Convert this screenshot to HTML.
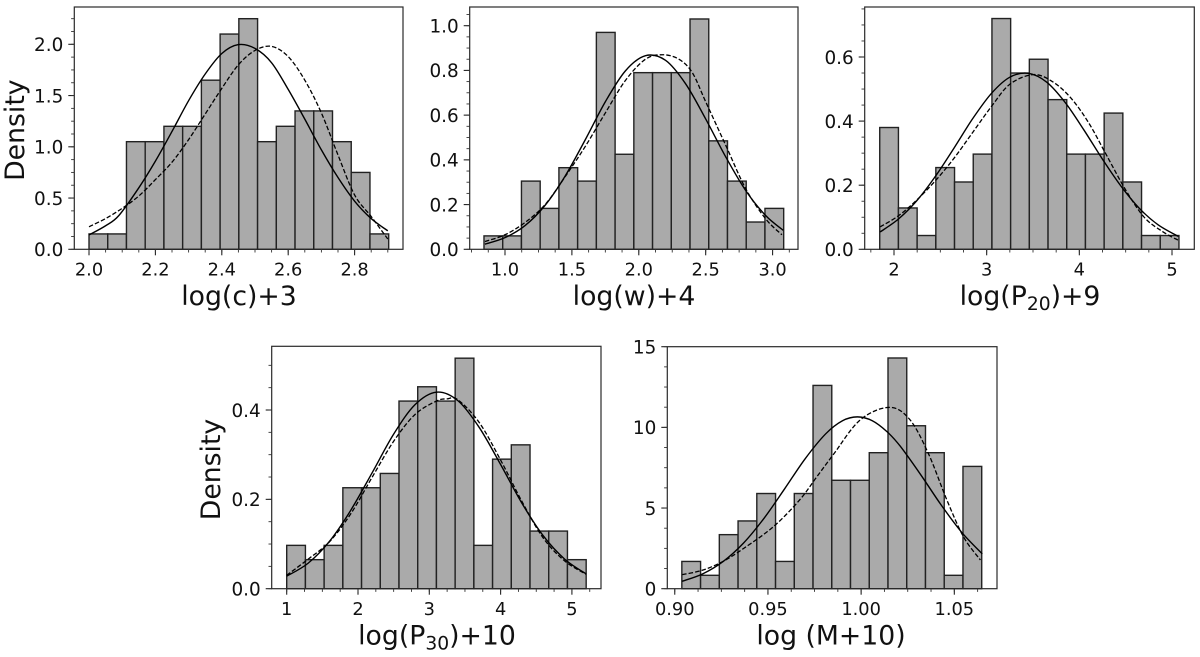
<!DOCTYPE html>
<html lang="en">
<head>
<meta charset="utf-8">
<title>Density histograms</title>
<style>
html,body{margin:0;padding:0;background:#fff;}
svg{display:block;}
text{font-family:"DejaVu Sans","Liberation Sans",sans-serif;fill:#111;}
</style>
</head>
<body>
<svg id="chart" xmlns="http://www.w3.org/2000/svg" width="1200" height="657" viewBox="0 0 1200 657">
<rect x="0" y="0" width="1200" height="657" fill="#ffffff"/>
</svg>
<script>
// Panel 1: log(c)+3
const p1Density = [0.15,0.15,1.05,1.05,1.2,1.2,1.65,2.1,2.25,1.05,1.2,1.35,1.35,1.05,0.75,0.15];
const p1SolidX = [2.0,2.05,2.09,2.15,2.2,2.25,2.3,2.35,2.4,2.45,2.5,2.55,2.6,2.65,2.7,2.75,2.8,2.85,2.9];
const p1SolidY = [0.14,0.23,0.33,0.6,0.86,1.15,1.45,1.71,1.91,1.997,1.96,1.82,1.56,1.27,0.97,0.7,0.47,0.3,0.18];
const p1DashX = [2.0,2.05,2.1,2.15,2.2,2.25,2.3,2.35,2.4,2.45,2.5,2.55,2.6,2.65,2.7,2.75,2.8,2.85,2.9];
const p1DashY = [0.22,0.3,0.4,0.52,0.68,0.85,1.07,1.32,1.57,1.8,1.94,1.98,1.88,1.65,1.33,0.92,0.53,0.32,0.1];
const p1XTicks = ['2.0','2.2','2.4','2.6','2.8'];
const p1YTicks = ['0.0','0.5','1.0','1.5','2.0'];

// Panel 2: log(w)+4
const p2Density = [0.06,0.06,0.305,0.183,0.365,0.305,0.97,0.425,0.79,0.79,0.79,1.03,0.485,0.305,0.122,0.183];
const p2SolidX = [0.85,1.0,1.15,1.3,1.45,1.6,1.75,1.9,2.05,2.2,2.35,2.5,2.65,2.8,2.95,3.08];
const p2SolidY = [0.023,0.052,0.106,0.197,0.328,0.49,0.66,0.798,0.866,0.845,0.74,0.583,0.413,0.262,0.15,0.085];
const p2DashX = [0.85,1.0,1.15,1.3,1.45,1.6,1.75,1.9,2.05,2.18,2.3,2.4,2.5,2.65,2.8,2.95,3.07];
const p2DashY = [0.035,0.065,0.12,0.2,0.325,0.46,0.61,0.755,0.85,0.87,0.85,0.79,0.66,0.465,0.27,0.135,0.065];
const p2XTicks = ['1.0','1.5','2.0','2.5','3.0'];
const p2YTicks = ['0.0','0.2','0.4','0.6','0.8','1.0'];

// Panel 3: log(P20)+9
const p3Density = [0.38,0.129,0.043,0.255,0.21,0.297,0.72,0.55,0.593,0.467,0.297,0.297,0.425,0.21,0.043,0.043];
const p3SolidX = [1.85,2.05,2.25,2.45,2.65,2.85,3.05,3.25,3.45,3.65,3.85,4.05,4.25,4.45,4.65,4.85,5.07];
const p3SolidY = [0.054,0.095,0.153,0.229,0.317,0.408,0.486,0.537,0.549,0.521,0.457,0.372,0.281,0.197,0.127,0.0765,0.04];
const p3DashX = [1.85,2.05,2.25,2.45,2.65,2.85,3.05,3.25,3.5,3.7,3.9,4.1,4.3,4.5,4.7,4.9,5.07];
const p3DashY = [0.07,0.105,0.155,0.215,0.285,0.365,0.445,0.515,0.545,0.525,0.475,0.395,0.29,0.185,0.1,0.055,0.028];
const p3XTicks = ['2','3','4','5'];
const p3YTicks = ['0.0','0.2','0.4','0.6'];

// Panel 4: log(P30)+10
const p4Density = [0.097,0.065,0.097,0.226,0.226,0.258,0.42,0.452,0.42,0.516,0.097,0.29,0.322,0.129,0.129,0.065];
const p4SolidX = [1.0,1.3,1.6,1.9,2.2,2.5,2.8,3.1,3.4,3.7,4.0,4.3,4.6,4.9,5.2];
const p4SolidY = [0.028,0.057,0.106,0.176,0.26,0.346,0.412,0.44,0.421,0.361,0.278,0.191,0.118,0.066,0.033];
const p4DashX = [1.0,1.3,1.6,1.9,2.2,2.5,2.8,3.1,3.25,3.4,3.7,4.0,4.3,4.6,4.9,5.2];
const p4DashY = [0.03,0.066,0.105,0.168,0.25,0.33,0.39,0.42,0.425,0.423,0.372,0.288,0.195,0.113,0.062,0.032];
const p4XTicks = ['1','2','3','4','5'];
const p4YTicks = ['0.0','0.2','0.4'];

// Panel 5: log (M+10)
const p5Density = [1.69,0.83,3.35,4.2,5.9,1.69,5.9,12.6,6.72,6.72,8.43,14.3,10.1,8.43,0.83,7.58];
const p5SolidX = [0.904,0.915,0.926,0.937,0.948,0.959,0.97,0.981,0.99,0.998,1.006,1.014,1.021,1.032,1.043,1.054,1.065];
const p5SolidY = [0.46,0.92,1.69,2.84,4.38,6.2,8.06,9.6,10.41,10.65,10.41,9.72,8.83,7.06,5.18,3.49,2.16];
const p5DashX = [0.904,0.915,0.926,0.937,0.953,0.967,0.976,0.985,0.9994,1.015,1.026,1.036,1.046,1.055,1.064];
const p5DashY = [0.87,1.15,1.7,2.5,3.85,5.5,6.9,8.3,10.45,11.24,10.5,8.4,5.5,3.2,1.78];
const p5XTicks = ['0.90','0.95','1.00','1.05'];
const p5YTicks = ['0','5','10','15'];

const svg = document.getElementById('chart');
const NS = 'http://www.w3.org/2000/svg';

function make(tag, attrs, parent) {
  const node = document.createElementNS(NS, tag);
  for (const k in attrs) node.setAttribute(k, attrs[k]);
  parent.appendChild(node);
  return node;
}

function smoothPath(xs, ys, sx, sy) {
  const px = xs.map(sx), py = ys.map(sy);
  let d = 'M' + px[0].toFixed(2) + ' ' + py[0].toFixed(2);
  for (let i = 0; i < px.length - 1; i++) {
    const a = Math.max(i - 1, 0), b = Math.min(i + 2, px.length - 1);
    const c1x = px[i] + (px[i + 1] - px[a]) / 6, c1y = py[i] + (py[i + 1] - py[a]) / 6;
    const c2x = px[i + 1] - (px[b] - px[i]) / 6, c2y = py[i + 1] - (py[b] - py[i]) / 6;
    d += 'C' + c1x.toFixed(2) + ' ' + c1y.toFixed(2) + ' ' + c2x.toFixed(2) + ' ' + c2y.toFixed(2) + ' ' + px[i + 1].toFixed(2) + ' ' + py[i + 1].toFixed(2);
  }
  return d;
}

function drawPanel(c) {
  const g = make('g', {}, svg);
  
  
  const sx = v => c.left + (v - c.xMin) / (c.xMax - c.xMin) * (c.right - c.left);
  const sy = v => c.bottom - v / c.yMax * (c.bottom - c.top);
  const binW = (c.binEnd - c.binStart) / c.density.length;

  // bars
  c.density.forEach((d, i) => {
    const x0 = sx(c.binStart + i * binW), x1 = sx(c.binStart + (i + 1) * binW);
    const bar = make('rect', {x: x0, y: sy(d), width: x1 - x0, height: c.bottom - sy(d), fill: '#aaaaaa', stroke: '#222', 'stroke-width': 1.4}, g);
    
    
  });

  // curves
  const solid = make('path', {d: smoothPath(c.solidX, c.solidY, sx, sy), fill: 'none', stroke: '#000', 'stroke-width': 1.4}, g);
  
  
  const dash = make('path', {d: smoothPath(c.dashX, c.dashY, sx, sy), fill: 'none', stroke: '#000', 'stroke-width': 1.3, 'stroke-dasharray': '4.5 2.1'}, g);
  
  

  // frame
  const frame = make('rect', {x: c.left, y: c.top, width: c.right - c.left, height: c.bottom - c.top, fill: 'none', stroke: '#2a2a2a', 'stroke-width': 1.2}, g);
  
  

  // x ticks
  c.xTicks.forEach(t => {
    const v = Number(t), x = sx(v);
    const line = make('line', {x1: x, x2: x, y1: c.bottom, y2: c.bottom + 6, stroke: '#222', 'stroke-width': 1.1}, g);
    
    
    const lab = make('text', {x: x, y: c.bottom + 26.3, 'font-size': 17.8, 'text-anchor': 'middle'}, g);
    
    
    lab.textContent = t;
  });
  const firstX = Number(c.xTicks[0]);
  const nStart = Math.ceil((c.xMin - firstX) / c.xMinor - 1e-9);
  const nEnd = Math.floor((c.xMax - firstX) / c.xMinor + 1e-9);
  for (let n = nStart; n <= nEnd; n++) {
    const x = sx(firstX + n * c.xMinor);
    const line = make('line', {x1: x, x2: x, y1: c.bottom, y2: c.bottom + 3.2, stroke: '#333', 'stroke-width': 0.9}, g);
    
    
  }

  // y ticks
  c.yTicks.forEach(t => {
    const y = sy(Number(t));
    const line = make('line', {x1: c.left - 6, x2: c.left, y1: y, y2: y, stroke: '#222', 'stroke-width': 1.1}, g);
    
    
    const lab = make('text', {x: c.left - 11, y: y + 6.8, 'font-size': 18.4, 'text-anchor': 'end'}, g);
    
    
    lab.textContent = t;
  });
  for (let n = 0; n * c.yMinor <= c.yMax + 1e-9; n++) {
    const y = sy(n * c.yMinor);
    const line = make('line', {x1: c.left - 3.2, x2: c.left, y1: y, y2: y, stroke: '#333', 'stroke-width': 0.9}, g);
    
    
  }

  // x title
  const title = make('text', {x: c.xTitleX, y: c.bottom + 55.7, 'font-size': 26.7, 'text-anchor': 'middle'}, g);
  
  
  title.appendChild(document.createTextNode(c.xTitle[0]));
  if (c.xTitle.length > 1) {
    const sub = make('tspan', {'font-size': 18.7, dy: 5}, title);
    
    
    sub.textContent = c.xTitle[1];
    const rest = make('tspan', {dy: -5}, title);
    
    
    rest.textContent = c.xTitle[2];
  }

  // y title
  if (c.yTitleX) {
    const cy = (c.top + c.bottom) / 2 + 2;
    const yt = make('text', {x: c.yTitleX, y: cy, 'font-size': 26.7, 'text-anchor': 'middle', transform: 'rotate(-90 ' + c.yTitleX + ' ' + cy + ')'}, g);
    
    
    yt.textContent = 'Density';
  }
}

drawPanel({name: 'panel-log-c', left: 74.3, right: 403, top: 7, bottom: 249.3, xMin: 1.9557, xMax: 2.9458, yMax: 2.364,
  binStart: 2.0, binEnd: 2.9027, density: p1Density, solidX: p1SolidX, solidY: p1SolidY, dashX: p1DashX, dashY: p1DashY,
  xTicks: p1XTicks, yTicks: p1YTicks, xMinor: 0.05, yMinor: 0.125, xTitle: ['log(c)+3'], xTitleX: 239, yTitleX: 24});

drawPanel({name: 'panel-log-w', left: 469.7, right: 798, top: 7, bottom: 249.3, xMin: 0.7362, xMax: 3.19, yMax: 1.0836,
  binStart: 0.843, binEnd: 3.083, density: p2Density, solidX: p2SolidX, solidY: p2SolidY, dashX: p2DashX, dashY: p2DashY,
  xTicks: p2XTicks, yTicks: p2YTicks, xMinor: 0.125, yMinor: 0.05, xTitle: ['log(w)+4'], xTitleX: 634});

drawPanel({name: 'panel-log-p20', left: 864.7, right: 1194.3, top: 7, bottom: 249.3, xMin: 1.6838, xMax: 5.2406, yMax: 0.756,
  binStart: 1.846, binEnd: 5.075, density: p3Density, solidX: p3SolidX, solidY: p3SolidY, dashX: p3DashX, dashY: p3DashY,
  xTicks: p3XTicks, yTicks: p3YTicks, xMinor: 0.25, yMinor: 0.05, xTitle: ['log(P', '20', ')+9'], xTitleX: 1030});

drawPanel({name: 'panel-log-p30', left: 271.7, right: 601, top: 346.3, bottom: 588.7, xMin: 0.7896, xMax: 5.408, yMax: 0.5426,
  binStart: 1.0, binEnd: 5.2, density: p4Density, solidX: p4SolidX, solidY: p4SolidY, dashX: p4DashX, dashY: p4DashY,
  xTicks: p4XTicks, yTicks: p4YTicks, xMinor: 0.25, yMinor: 0.05, xTitle: ['log(P', '30', ')+10'], xTitleX: 437, yTitleX: 220});

drawPanel({name: 'panel-log-m', left: 667.3, right: 997, top: 346.7, bottom: 588.7, xMin: 0.896, xMax: 1.0729, yMax: 15,
  binStart: 0.9038, binEnd: 1.0647, density: p5Density, solidX: p5SolidX, solidY: p5SolidY, dashX: p5DashX, dashY: p5DashY,
  xTicks: p5XTicks, yTicks: p5YTicks, xMinor: 0.0125, yMinor: 1.25, xTitle: ['log (M+10)'], xTitleX: 831});
</script>
</body>
</html>
